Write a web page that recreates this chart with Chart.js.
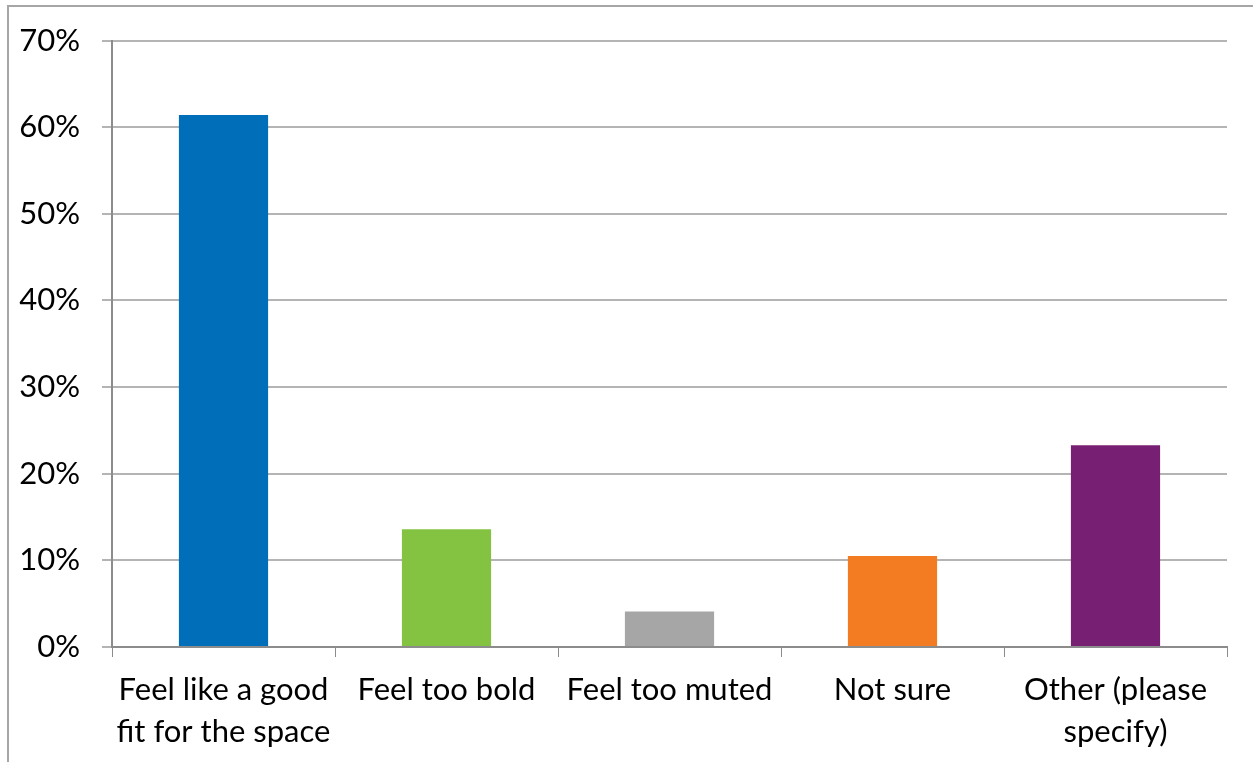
<!DOCTYPE html>
<html lang="en">
<head>
<meta charset="UTF-8">
<title>Survey responses</title>
<script src="https://cdn.jsdelivr.net/npm/chart.js@4.4.1/dist/chart.umd.min.js"></script>
<style>
  html, body { margin: 0; padding: 0; background: #fff; }
  #frame { position: absolute; left: 7px; top: 5px; width: 1300px; height: 800px;
           border-left: 2px solid #a6a6a6; border-top: 2px solid #a6a6a6; }
  #wrap { position: absolute; left: 0; top: 0; width: 1253px; height: 762px; }
</style>
</head>
<body>
<div id="frame"></div>
<div id="wrap"><canvas id="chart"></canvas></div>
<script>
  // answers (multi-select, percent of respondents)
  const categories = [
    ["Feel like a good", "fit for the space"],
    "Feel too bold",
    "Feel too muted",
    "Not sure",
    ["Other (please", "specify)"]
  ];
  const shares = [61.4, 13.6, 4.1, 10.5, 23.3];
  const barColors = ["#006EB9", "#84C341", "#A6A6A6", "#F37B21", "#771F73"];

  const axisGrey = "#8c8c8c";
  const gridGrey = "#b4b4b4";

  new Chart(document.getElementById("chart"), {
    type: "bar",
    data: {
      labels: categories,
      datasets: [{
        data: shares,
        backgroundColor: barColors,
        barPercentage: 0.4,
        categoryPercentage: 1.0
      }]
    },
    options: {
      responsive: true,
      maintainAspectRatio: false,
      animation: false,
      layout: { padding: { left: 0, right: 26, top: 22, bottom: 0 } },
      plugins: { legend: { display: false }, tooltip: { enabled: false } },
      scales: {
        x: {
          grid: { drawOnChartArea: false, drawTicks: true, tickLength: 10, color: axisGrey, offset: true },
          border: { color: axisGrey, width: 2 },
          ticks: { color: "#000", font: { family: "Lato", size: 31, lineHeight: 1.36 },
                   padding: 12, maxRotation: 0, autoSkip: false },
          afterFit: s => { s.height = 115; }
        },
        y: {
          min: 0, max: 70,
          grid: { color: gridGrey, lineWidth: 2, tickLength: 10 },
          border: { color: axisGrey, width: 2 },
          ticks: { stepSize: 10, color: "#000", font: { family: "Lato", size: 31 }, padding: 22,
                   callback: v => v + "%" },
          afterFit: s => { s.width = 112; }
        }
      }
    }
  });
</script>
</body>
</html>
